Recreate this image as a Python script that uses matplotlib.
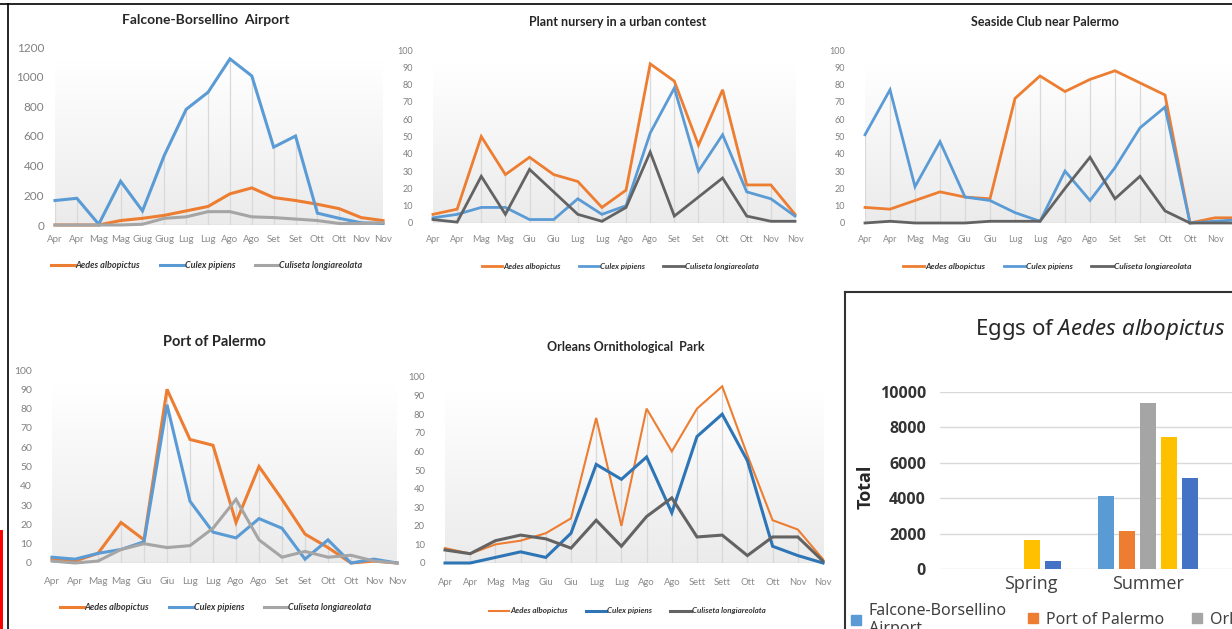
import numpy as np
import matplotlib
matplotlib.use('Agg')
import matplotlib.pyplot as plt
from matplotlib.lines import Line2D
from matplotlib.patches import Patch, Rectangle
from matplotlib.colors import LinearSegmentedColormap
from matplotlib.transforms import ScaledTranslation

# ---------------- data ----------------
species = ['Aedes albopictus', 'Culex pipiens', 'Culiseta longiareolata']

cats_falcone = ['Apr', 'Apr', 'Mag', 'Mag', 'Giug', 'Giug', 'Lug', 'Lug',
                'Ago', 'Ago', 'Set', 'Set', 'Ott', 'Ott', 'Nov', 'Nov']
cats_std = ['Apr', 'Apr', 'Mag', 'Mag', 'Giu', 'Giu', 'Lug', 'Lug',
            'Ago', 'Ago', 'Set', 'Set', 'Ott', 'Ott', 'Nov', 'Nov']
cats_orleans = ['Apr', 'Apr', 'Mag', 'Mag', 'Giu', 'Giu', 'Lug', 'Lug',
                'Ago', 'Ago', 'Sett', 'Sett', 'Ott', 'Ott', 'Nov', 'Nov']

falcone_aedes = [0, 0, 0, 30, 45, 65, 95, 125, 210, 250, 185, 165, 140, 110, 50, 30]
falcone_culex = [165, 180, 5, 295, 95, 470, 780, 895, 1120, 1005, 525, 600, 80, 45, 15, 10]
falcone_culiseta = [0, 0, 0, 0, 5, 45, 55, 90, 90, 55, 50, 40, 30, 10, 10, 15]

nursery_aedes = [5, 8, 50, 28, 38, 28, 24, 9, 19, 92, 82, 45, 77, 22, 22, 5]
nursery_culex = [3, 5, 9, 9, 2, 2, 14, 5, 10, 52, 78, 30, 51, 18, 14, 4]
nursery_culiseta = [2, 0.5, 27, 5, 31, 18, 5, 1, 9, 41, 4, 15, 26, 4, 1, 1]

seaside_aedes = [9, 8, 13, 18, 15, 14, 72, 85, 76, 83, 88, 81, 74, 0, 3, 3]
seaside_culex = [51, 77, 21, 47, 15, 13, 6, 1, 30, 13, 32, 55, 67, 0, 1, 2]
seaside_culiseta = [0, 1, 0, 0, 0, 1, 1, 1, 20, 38, 14, 27, 7, 0, 0, 0]

port_aedes = [2, 1, 5, 21, 12, 90, 64, 61, 21, 50, 33, 15, 8, 0, 1, 0]
port_culex = [3, 2, 5, 7, 11, 82, 32, 16, 13, 23, 18, 2, 12, 0, 2, 0]
port_culiseta = [1, 0, 1, 7, 10, 8, 9, 18, 33, 12, 3, 6, 3, 4, 1, 0]

orleans_aedes = [8, 5, 10, 12, 16, 24, 78, 20, 83, 60, 83, 95, 58, 23, 18, 2]
orleans_culex = [0, 0, 3, 6, 3, 16, 53, 45, 57, 27, 68, 80, 55, 9, 4, 0]
orleans_culiseta = [7, 5, 12, 15, 13, 8, 23, 9, 25, 35, 14, 15, 4, 14, 14, 1]

seasons = ['Spring', 'Summer']
egg_sites = ['Falcone-Borsellino\nAirport', 'Port of Palermo', 'Orleans Ornithological Park',
             'Plant nursery in a urban contest', 'Seaside Club near Palermo']
eggs_falcone = [0, 4120]
eggs_port = [0, 2150]
eggs_orleans = [0, 9380]
eggs_nursery = [1640, 7460]
eggs_seaside = [450, 5140]

# ---------------- figure ----------------
W, H = 1232, 629
plt.rcParams['font.family'] = ['Lato', 'DejaVu Sans']
plt.rcParams['mathtext.fontset'] = 'custom'
plt.rcParams['mathtext.rm'] = 'Noto Sans'
plt.rcParams['mathtext.it'] = 'Noto Sans:italic'
BARFONT = ['Open Sans', 'Noto Sans', 'DejaVu Sans']

fig = plt.figure(figsize=(W / 100, H / 100), dpi=100)
fig.patch.set_facecolor('white')


def fax(x0, x1, ytop, ybot):
    return fig.add_axes([x0 / W, 1 - ybot / H, (x1 - x0) / W, (ybot - ytop) / H])


grad_cmap = LinearSegmentedColormap.from_list('g', ['#ebebeb', '#ffffff'])

ORANGE = '#ED7D31'
BLUE = '#5B9BD5'
DBLUE = '#2E75B6'
LGREY = '#A5A5A5'
DGREY = '#636363'


def line_panel(x_first, x_last, y0px, ytop_px, ymax, ystep, cats, series, colors, lws,
               title, title_xy, title_size, ytick_size, xtick_size, ytick_right,
               xlab_y, legend_xy, leg_size, n_labels=None):
    ax = fax(x_first, x_last, ytop_px, y0px)
    n = len(cats)
    xs = np.arange(n)
    ax.imshow(np.linspace(0, 1, 256)[:, None], extent=[0, n - 1, 0, ymax * 0.92],
              origin='lower', aspect='auto', cmap=grad_cmap, zorder=0)
    ax.set_xlim(0, n - 1)
    ax.set_ylim(0, ymax)
    top = np.max(np.array(series, dtype=float), axis=0)
    ax.vlines(xs, 0, top, colors='#d9d9d9', lw=0.9, zorder=1)
    ax.axhline(0, color='#d0d0d0', lw=1.0, zorder=1)
    handles = []
    for s, c, lw in zip(series, colors, lws):
        ln, = ax.plot(xs, s, color=c, lw=lw, zorder=3, clip_on=False,
                      solid_joinstyle='miter')
        handles.append(ln)
    for sp in ax.spines.values():
        sp.set_visible(False)
    ax.set_yticks(np.arange(0, ymax + 1, ystep))
    k = n if n_labels is None else n_labels
    ax.set_xticks(xs[:k])
    ax.set_xticklabels(cats[:k])
    ax.tick_params(axis='y', length=0, labelsize=ytick_size, labelcolor='#808080',
                   pad=(x_first - ytick_right) * 0.72)
    ax.tick_params(axis='x', length=0, labelsize=xtick_size, labelcolor='#8a8a8a',
                   pad=(xlab_y - y0px) * 0.72 - xtick_size * 0.5)
    fig.text(title_xy[0] / W, 1 - title_xy[1] / H, title, ha='center', va='center',
             fontsize=title_size, fontweight='bold', color='#262626')
    ax.legend(handles, species, loc='center',
              bbox_to_anchor=(legend_xy[0] / W, 1 - legend_xy[1] / H),
              bbox_transform=fig.transFigure, ncol=3, frameon=False,
              prop={'style': 'italic', 'weight': 'bold', 'size': leg_size},
              handlelength=2.6, handletextpad=0.1, columnspacing=2.2,
              labelcolor='#333333')
    return ax


line_panel(55, 383, 225, 47, 1200, 200, cats_falcone,
           [falcone_aedes, falcone_culex, falcone_culiseta],
           [ORANGE, BLUE, LGREY], [2.2, 2.2, 2.2],
           'Falcone-Borsellino  Airport', (206, 20), 10, 8.5, 7, 44, 240, (207, 266), 6.5)

line_panel(433, 795, 223, 50, 100, 10, cats_std,
           [nursery_aedes, nursery_culex, nursery_culiseta],
           [ORANGE, BLUE, DGREY], [2.0, 2.0, 2.0],
           'Plant nursery in a urban contest', (618, 22), 9, 6.5, 6.5, 413, 240, (620, 266), 5.8)

line_panel(865, 1240, 223, 50, 100, 10, cats_std,
           [seaside_aedes, seaside_culex, seaside_culiseta],
           [ORANGE, BLUE, DGREY], [2.0, 2.0, 2.0],
           'Seaside Club near Palermo', (1045, 22), 9, 6.5, 6.5, 845, 240, (1047, 266), 6,
           n_labels=15)

line_panel(52, 397, 563, 370, 100, 10, cats_std,
           [port_aedes, port_culex, port_culiseta],
           [ORANGE, BLUE, LGREY], [2.2, 2.2, 2.2],
           'Port of Palermo', (214, 342), 10.5, 7.5, 7.2, 32, 582, (216, 608), 6.5)

line_panel(445, 823, 563, 377, 100, 10, cats_orleans,
           [orleans_aedes, orleans_culex, orleans_culiseta],
           [ORANGE, DBLUE, DGREY], [1.5, 2.2, 2.2],
           'Orleans Ornithological  Park', (626, 347), 9, 6.8, 6.8, 425, 583, (627, 611), 5.8)

# ---------------- bar chart ----------------
ax6 = fax(940, 1356, 392, 569)
ax6.set_xlim(-0.518, 2.518)
ax6.set_ylim(0, 10000)
bar_colors = ['#5B9BD5', '#ED7D31', '#A5A5A5', '#FFC000', '#4472C4']
bar_series = [eggs_falcone, eggs_port, eggs_orleans, eggs_nursery, eggs_seaside]
gx = np.arange(len(seasons))
step, width = 0.153, 0.117
bar_handles = []
for i, (vals, c) in enumerate(zip(bar_series, bar_colors)):
    b = ax6.bar(gx + (i - 2) * step, vals, width=width, color=c, zorder=3)
    bar_handles.append(b)
ax6.set_yticks(np.arange(0, 10001, 2000))
ax6.yaxis.grid(True, color='#d9d9d9', lw=1.0, zorder=0)
ax6.set_axisbelow(True)
for sp in ax6.spines.values():
    sp.set_visible(False)
ax6.set_xticks(gx)
ax6.set_xticklabels(seasons, fontsize=13, color='#404040', family=BARFONT)
ax6.tick_params(axis='x', length=0, pad=4)
ax6.tick_params(axis='y', length=0, labelsize=11.5, labelcolor='#333333', pad=10)
for t in ax6.get_yticklabels():
    t.set_fontweight('bold')
    t.set_family(BARFONT)
# the Spring label sits slightly right of its group centre in the reference
spring_lab = ax6.get_xticklabels()[0]
spring_lab.set_transform(spring_lab.get_transform() +
                         ScaledTranslation(0.2, 0, fig.dpi_scale_trans))
fig.text(866 / W, 1 - 487 / H, 'Total', rotation=90, ha='center', va='center',
         fontsize=13, fontweight='bold', color='#262626', family=BARFONT)
fig.text(975 / W, 1 - 330 / H, r'Eggs of $Aedes\ albopictus$', ha='left', va='center',
         fontsize=16, color='#262626', family=['Noto Sans', 'DejaVu Sans'])

leg_pos = [(851, 620), (1028, 620), (1192, 620)]
for h, lab, (lx, ly) in zip(bar_handles[:3], egg_sites[:3], leg_pos):
    fig.legend([Patch(color=h.patches[0].get_facecolor())], [lab], loc='center left',
               bbox_to_anchor=(lx / W, 1 - ly / H), frameon=False,
               prop={'family': ['Noto Sans', 'DejaVu Sans'], 'size': 11.5},
               handlelength=0.6, handleheight=0.6, handletextpad=0.5,
               labelcolor='#404040', borderaxespad=0, borderpad=0)

# ---------------- frames ----------------
def fline(x0, y0, x1, y1, color='black', lw=1.2):
    fig.add_artist(Line2D([x0 / W, x1 / W], [1 - y0 / H, 1 - y1 / H],
                          transform=fig.transFigure, color=color, lw=lw))

fline(0, 4, W, 4, 'black', 1.2)
fline(8, 4, 8, H, 'black', 1.2)
fline(845, 292, W, 292, '#333333', 1.5)
fline(845, 292, 845, H, '#333333', 1.5)
fig.add_artist(Rectangle((0, 0), 3 / W, (H - 530) / H, transform=fig.transFigure,
                         color='#ff0000', lw=0))

fig.savefig('out.png', dpi=100)
